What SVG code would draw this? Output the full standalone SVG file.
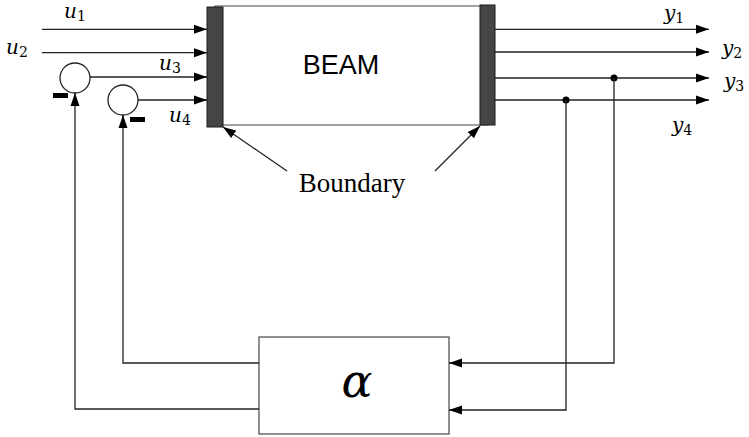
<svg xmlns="http://www.w3.org/2000/svg" width="749" height="437" viewBox="0 0 749 437">
<style>
.ln{stroke:#222;stroke-width:1.3;fill:none}
.bar{fill:#454545;stroke:#1a1a1a;stroke-width:1}
.m{font-family:"DejaVu Serif",serif;font-style:italic;font-size:20px;fill:#000}
.s{font-size:14px;font-style:normal}
</style>
<defs>
<marker id="ar" markerUnits="userSpaceOnUse" markerWidth="14" markerHeight="10" refX="13" refY="5" orient="auto">
<path d="M0,0.5 L13,5 L0,9.5 Z" fill="#000"/>
</marker>
</defs>
<g id="beam">
<rect x="215" y="6" width="272" height="119" fill="#fff" stroke="#444" stroke-width="1"/>
<rect class="bar" x="207" y="7" width="16" height="120"/>
<rect class="bar" x="480" y="5" width="15" height="120"/>
<text x="341" y="74" font-family="Liberation Sans,Arial,sans-serif" font-size="27" text-anchor="middle">BEAM</text>
</g>
<g id="sum1"><circle cx="75" cy="78" r="15" fill="#fff" stroke="#222" stroke-width="1.3"/><rect x="53" y="93" width="15" height="5" fill="#000"/></g>
<g id="sum2"><circle cx="123" cy="100" r="15" fill="#fff" stroke="#222" stroke-width="1.3"/><rect x="130" y="117" width="15" height="5" fill="#000"/></g>
<g id="alpha">
<rect x="259" y="337" width="190" height="97" fill="#fff" stroke="#444" stroke-width="1.2"/>
<text x="357" y="397" font-family="DejaVu Serif,serif" font-style="italic" font-size="46" text-anchor="middle">α</text>
</g>
<g id="boundary">
<text x="352" y="192" font-family="Liberation Serif,serif" font-size="27" text-anchor="middle">Boundary</text>
</g>
<g id="connectors">
<path class="ln" d="M42,29.3 H207" marker-end="url(#ar)"/>
<path class="ln" d="M42,52.7 H207" marker-end="url(#ar)"/>
<path class="ln" d="M90,77 H207" marker-end="url(#ar)"/>
<path class="ln" d="M138,100 H207" marker-end="url(#ar)"/>
<path class="ln" d="M495,29.3 H709" marker-end="url(#ar)"/>
<path class="ln" d="M495,52 H709" marker-end="url(#ar)"/>
<path class="ln" d="M495,78 H709" marker-end="url(#ar)"/>
<path class="ln" d="M495,100 H709" marker-end="url(#ar)"/>
<circle cx="614" cy="78" r="3.5" fill="#000"/>
<circle cx="566" cy="100" r="3.5" fill="#000"/>
<path class="ln" d="M614,78 V363 H449" marker-end="url(#ar)"/>
<path class="ln" d="M566,100 V410 H449" marker-end="url(#ar)"/>
<path class="ln" d="M259,363 H123 V115" marker-end="url(#ar)"/>
<path class="ln" d="M259,409 H75 V93" marker-end="url(#ar)"/>
<path class="ln" d="M287,171 L223,127" marker-end="url(#ar)"/>
<path class="ln" d="M435,171 L480,126" marker-end="url(#ar)"/>
</g>
<g id="labels">
<text class="m" x="64" y="18">u<tspan class="s" dy="3">1</tspan></text>
<text class="m" x="6" y="54">u<tspan class="s" dy="3">2</tspan></text>
<text class="m" x="159" y="70">u<tspan class="s" dy="3">3</tspan></text>
<text class="m" x="169" y="122">u<tspan class="s" dy="3">4</tspan></text>
<text class="m" x="664" y="20">y<tspan class="s" dy="3">1</tspan></text>
<text class="m" x="722" y="55">y<tspan class="s" dy="3">2</tspan></text>
<text class="m" x="724" y="88">y<tspan class="s" dy="3">3</tspan></text>
<text class="m" x="672" y="132">y<tspan class="s" dy="3">4</tspan></text>
</g>
</svg>
